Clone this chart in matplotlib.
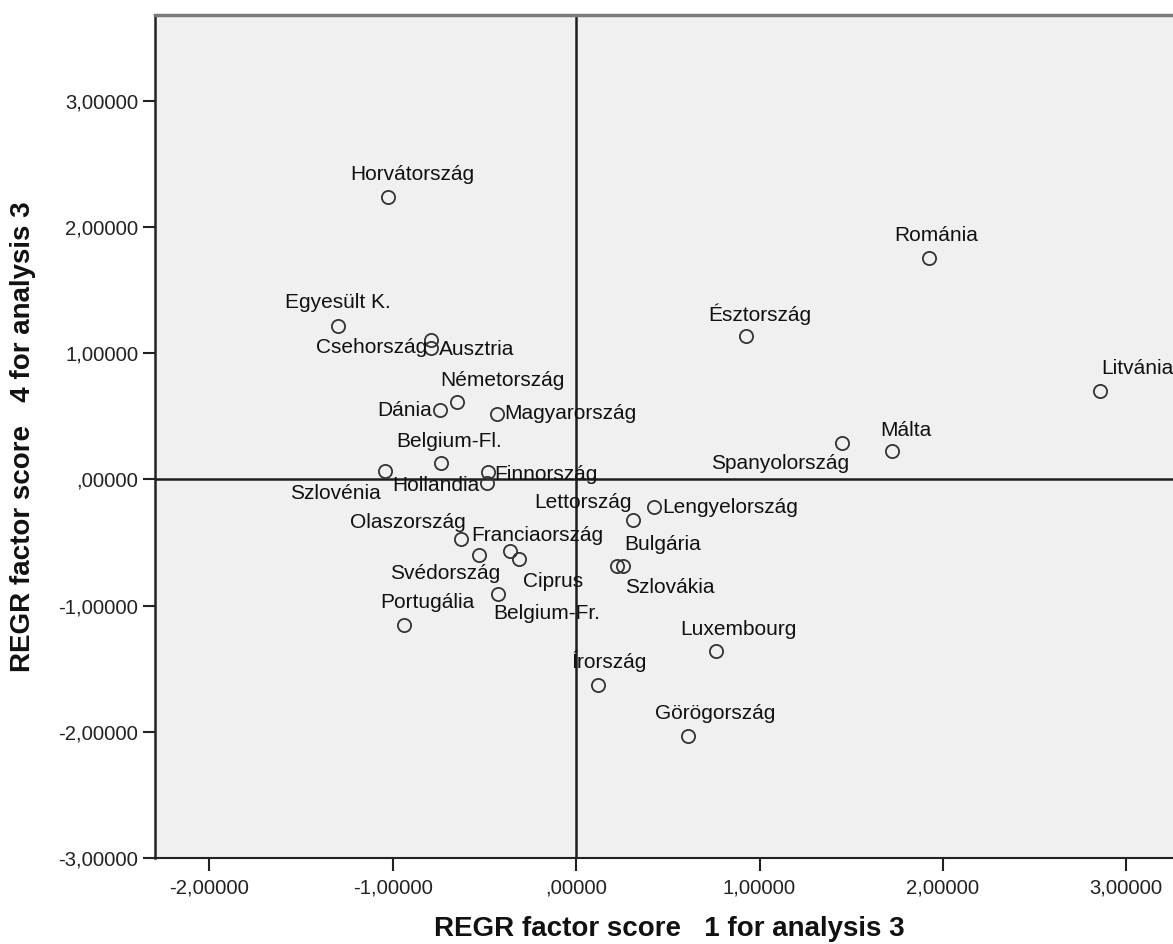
import matplotlib.pyplot as plt
from matplotlib.ticker import FuncFormatter

# factor scores per country
countries = ['Horvátország', 'Egyesült K.', 'Csehország', 'Ausztria', 'Németország',
             'Dánia', 'Magyarország', 'Belgium-Fl.', 'Szlovénia', 'Finnország',
             'Hollandia', 'Lettország', 'Lengyelország', 'Olaszország', 'Svédország',
             'Franciaország', 'Ciprus', 'Belgium-Fr.', 'Portugália', 'Bulgária',
             'Szlovákia', 'Luxembourg', 'Írország', 'Görögország', 'Románia',
             'Észtország', 'Litvánia', 'Spanyolország', 'Málta']
score1 = [-1.026, -1.298, -0.791, -0.791, -0.649,
          -0.742, -0.431, -0.737, -1.042, -0.480,
          -0.486, 0.311, 0.426, -0.627, -0.529,
          -0.360, -0.311, -0.426, -0.938, 0.224,
          0.256, 0.764, 0.120, 0.611, 1.926,
          0.927, 2.859, 1.451, 1.724]
score4 = [2.234, 1.215, 1.105, 1.042, 0.616,
          0.552, 0.521, 0.134, 0.063, 0.055,
          -0.032, -0.324, -0.221, -0.474, -0.600,
          -0.568, -0.631, -0.908, -1.152, -0.687,
          -0.687, -1.358, -1.626, -2.036, 1.752,
          1.137, 0.702, 0.292, 0.229]

# label placement (pixel offsets from the point, alignment)
label_pos = {
    'Horvátország': (24, 23, 'center'), 'Egyesült K.': (0, 24, 'center'),
    'Csehország': (-4, -8, 'right'), 'Ausztria': (8, -2, 'left'),
    'Németország': (45, 21, 'center'), 'Dánia': (-8, -1, 'right'),
    'Magyarország': (7, 0, 'left'), 'Belgium-Fl.': (8, 21, 'center'),
    'Szlovénia': (-50, -22, 'center'), 'Finnország': (6, -2, 'left'),
    'Hollandia': (-8, -2, 'right'), 'Lettország': (-50, 18, 'center'),
    'Lengyelország': (8, 0, 'left'), 'Olaszország': (-53, 17, 'center'),
    'Svédország': (-34, -18, 'center'), 'Franciaország': (27, 16, 'center'),
    'Ciprus': (34, -22, 'center'), 'Belgium-Fr.': (49, -20, 'center'),
    'Portugália': (23, 22, 'center'), 'Bulgária': (45, 22, 'center'),
    'Szlovákia': (47, -21, 'center'), 'Luxembourg': (22, 21, 'center'),
    'Írország': (11, 23, 'center'), 'Görögország': (27, 23, 'center'),
    'Románia': (7, 23, 'center'), 'Észtország': (14, 22, 'center'),
    'Litvánia': (37, 22, 'center'), 'Spanyolország': (-62, -21, 'center'),
    'Málta': (14, 20, 'center'),
}

plt.rcParams['font.family'] = ['Liberation Sans', 'DejaVu Sans']

fig = plt.figure(figsize=(11.73, 9.44), dpi=100)
ax = fig.add_axes([0.1321, 0.0911, 0.875, 0.893])
ax.set_facecolor('#f0f0f0')

ax.axhline(0, color='#1e1e1e', lw=1.8, zorder=1)
ax.axvline(0, color='#1e1e1e', lw=1.8, zorder=1)

ax.plot(score1, score4, 'o', markersize=9.5, markerfacecolor='none',
        markeredgecolor='#333333', markeredgewidth=1.3, zorder=3)

for name, x, y in zip(countries, score1, score4):
    dx, dy, ha = label_pos[name]
    ax.annotate(name, (x, y), xytext=(dx, dy), textcoords='offset pixels',
                ha=ha, va='center', fontsize=15, color='#111111', zorder=4)

ax.set_xlim(-2.297, 3.3)
ax.set_ylim(-3.0, 3.68)
ax.set_xticks([-2, -1, 0, 1, 2, 3])
ax.set_yticks([-3, -2, -1, 0, 1, 2, 3])


def spss_fmt(v, pos):
    s = f'{v:.5f}'.replace('.', ',')
    if s.startswith('0,'):
        s = s[1:]
    return s


ax.xaxis.set_major_formatter(FuncFormatter(spss_fmt))
ax.yaxis.set_major_formatter(FuncFormatter(spss_fmt))
ax.tick_params(axis='both', labelsize=14.6, colors='#222222', width=1.5,
               length=9, direction='out')
ax.tick_params(axis='x', pad=6)
ax.tick_params(axis='y', pad=3)

ax.spines['right'].set_visible(False)
ax.spines['left'].set_color('#222222')
ax.spines['left'].set_linewidth(1.8)
ax.spines['bottom'].set_color('#222222')
ax.spines['bottom'].set_linewidth(1.5)
ax.spines['top'].set_color('#7a7a7a')
ax.spines['top'].set_linewidth(2.5)

label_font = dict(weight='bold', size=20, color='#111111')
fig.text(669 / 1173, 1 - 936 / 944, 'REGR factor score   1 for analysis 3',
         ha='center', va='baseline', **label_font)
fig.text(23 / 1173, 1 - 437 / 944, 'REGR factor score   4 for analysis 3',
         ha='center', va='center', rotation=90, **label_font)

fig.savefig('out.png', dpi=100)
